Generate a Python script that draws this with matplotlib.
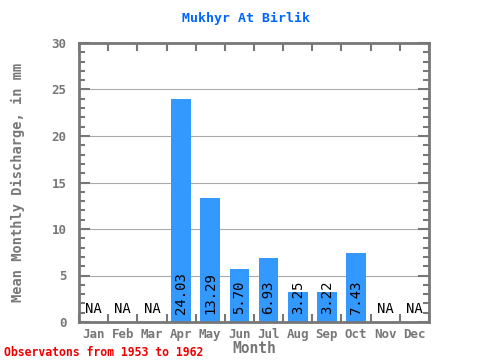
import matplotlib
matplotlib.use("Agg")
import matplotlib.pyplot as plt
import numpy as np

months = ["Jan","Feb","Mar","Apr","May","Jun","Jul","Aug","Sep","Oct","Nov","Dec"]
values = [None, None, None, 24.03, 13.29, 5.70, 6.93, 3.25, 3.22, 7.43, None, None]
labels = ["NA","NA","NA","24.03","13.29","5.70","6.93","3.25","3.22","7.43","NA","NA"]

mono = "DejaVu Sans Mono"
gray = "#777777"

fig = plt.figure(figsize=(4.8, 3.6), dpi=100)
ax = fig.add_axes([79/480, 1-322/360, 350/480, 279/360])

x = np.arange(12)
for i, (v, lab) in enumerate(zip(values, labels)):
    if v is None:
        ax.text(i, 0.6, lab, ha="center", va="bottom", fontsize=10, family=mono, color="black")
    else:
        ax.bar(i, v, width=0.68, color="#3399ff", zorder=2)
        ax.text(i, 0.9, lab, ha="center", va="bottom", rotation=90, fontsize=10, family=mono, color="black", zorder=3)

ax.set_xlim(-0.5, 11.5)
ax.set_ylim(0, 30)
ax.set_yticks(np.arange(0, 31, 5))
ax.set_yticks(np.arange(0, 31, 1), minor=True)
ax.yaxis.grid(True, color="#aaaaaa", linewidth=0.8, zorder=0)
ax.set_axisbelow(True)

ax.set_xticks(x)
ax.set_xticklabels(months)
ax.set_xticks(np.arange(-0.5, 12, 1), minor=True)
ax.tick_params(axis="x", which="major", length=0, pad=4, labelsize=9, labelcolor=gray)
ax.tick_params(axis="x", which="minor", direction="in", length=6, width=1.5, color=gray, top=True, bottom=True)
ax.tick_params(axis="y", which="major", direction="in", length=8, width=1.5, color=gray, left=True, right=True, labelsize=9, labelcolor=gray, pad=9)
ax.tick_params(axis="y", which="minor", direction="in", length=4, width=1.5, color=gray, left=True, right=True)
for lab in ax.get_xticklabels() + ax.get_yticklabels():
    lab.set_family(mono)
    lab.set_fontweight("bold")

for s in ax.spines.values():
    s.set_color(gray)
    s.set_linewidth(2)

ax.set_xlabel("Month", family=mono, fontweight="bold", color=gray, fontsize=10.5, labelpad=0)
fig.text(18/480, 1-182/360, "Mean Monthly Discharge, in mm", rotation=90, ha="center", va="center", family=mono, fontweight="bold", color=gray, fontsize=9.8)
fig.text(246/480, 1-18/360, "Mukhyr At Birlik", ha="center", va="center", family=mono, fontweight="bold", color="#0066ff", fontsize=9.5)
fig.text(4/480, 1-352/360, "Observatons from 1953 to 1962", ha="left", va="center", family=mono, fontweight="bold", color="#ee0000", fontsize=8.3)

fig.savefig("out.png", dpi=100)
